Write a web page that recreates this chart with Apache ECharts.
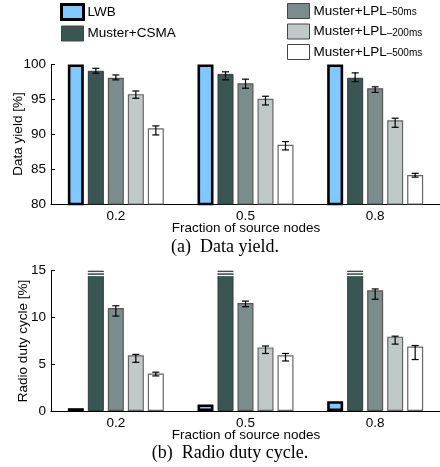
<!DOCTYPE html>
<html>
<head>
<meta charset="utf-8">
<script src="https://cdn.jsdelivr.net/npm/echarts@6/dist/echarts.min.js"></script>
<style>
  html, body { margin: 0; padding: 0; background: #fff; }
  #chart { width: 440px; height: 467px; }
</style>
</head>
<body>
<div id="chart"></div>
<script>
// ---------------- DATA ----------------
const categories = ['0.2', '0.5', '0.8'];
const seriesNames = ['LWB', 'Muster+CSMA', 'Muster+LPL–50ms', 'Muster+LPL–200ms', 'Muster+LPL–500ms'];

// (a) Data yield [%]
const yieldLWB = [100, 100, 100];
const yieldCSMA = [99.1, 98.65, 98.1];
const yieldLPL50 = [98.1, 97.3, 96.6];
const yieldLPL200 = [95.75, 95.1, 92.0];
const yieldLPL500 = [90.85, 88.5, 84.15];
// error bars [low, high]
const yieldErrCSMA = [[98.75, 99.45], [97.8, 98.95], [97.55, 98.8]];
const yieldErrLPL50 = [[97.8, 98.5], [96.6, 97.9], [96.0, 96.8]];
const yieldErrLPL200 = [[95.15, 96.2], [94.2, 95.45], [91.0, 92.3]];
const yieldErrLPL500 = [[89.9, 91.2], [87.75, 88.95], [83.85, 84.4]];

// (b) Radio duty cycle [%]
const dutyLWB = [0.3, 0.7, 1.05];
const dutyCSMA = [15, 15, 15];           // off scale (clipped at axis max, drawn with break marks)
const dutyLPL50 = [11.0, 11.55, 12.9];
const dutyLPL200 = [5.95, 6.8, 7.95];
const dutyLPL500 = [4.0, 5.95, 6.9];
const dutyErrLPL50 = [[10.15, 11.25], [11.15, 11.75], [11.95, 13.05]];
const dutyErrLPL200 = [[5.2, 6.05], [6.15, 6.95], [7.15, 8.0]];
const dutyErrLPL500 = [[3.75, 4.15], [5.35, 6.15], [5.5, 7.0]];

const yieldTicks = { min: 80, max: 100, interval: 5 };
const dutyTicks = { min: 0, max: 15, interval: 5 };

// ---------------- STYLE ----------------
const FONT = 'Liberation Sans, Arial, Helvetica, sans-serif';
const SERIF = 'Liberation Serif, Times New Roman, serif';
const fills = ['#80c8ff', '#3a5652', '#7a8c8c', '#c0c8c8', '#ffffff'];
const borders = ['#000000', '#2e3a38', '#555555', '#666666', '#666666'];
const borderWidths = [2.6, 1, 1.2, 1.2, 1.2];
const BAR_W = 16, BAR_STEP = 20;

function barSeries(i, data, gi) {
  return {
    type: 'bar', name: seriesNames[i], data: data,
    xAxisIndex: gi, yAxisIndex: gi,
    barWidth: BAR_W, barGap: '25%',
    itemStyle: { color: fills[i], borderColor: borders[i], borderWidth: borderWidths[i] },
    emphasis: { disabled: true }, animation: false, z: 2
  };
}

function errSeries(i, errs, gi) {
  return {
    type: 'custom', xAxisIndex: gi, yAxisIndex: gi, z: 5, animation: false, silent: true,
    data: errs.map((e, k) => [k, e[0], e[1]]),
    renderItem: function (params, api) {
      const off = (i - 2) * BAR_STEP;
      const lo = api.coord([api.value(0), api.value(1)]);
      const hi = api.coord([api.value(0), api.value(2)]);
      const x = lo[0] + off, cw = 3.5;
      const st = { stroke: '#000', lineWidth: 1.2 };
      return {
        type: 'group', children: [
          { type: 'line', shape: { x1: x, y1: lo[1], x2: x, y2: hi[1] }, style: st },
          { type: 'line', shape: { x1: x - cw, y1: lo[1], x2: x + cw, y2: lo[1] }, style: st },
          { type: 'line', shape: { x1: x - cw, y1: hi[1], x2: x + cw, y2: hi[1] }, style: st }
        ]
      };
    }
  };
}

function breakSeries(i, vals, gi) {
  return {
    type: 'custom', xAxisIndex: gi, yAxisIndex: gi, z: 6, animation: false, silent: true,
    data: vals.map((v, k) => [k, v]),
    renderItem: function (params, api) {
      const off = (i - 2) * BAR_STEP;
      const p = api.coord([api.value(0), api.value(1)]);
      const x = p[0] + off, hw = BAR_W / 2 + 1;
      const st = { stroke: '#ffffff', lineWidth: 1.2 };
      return {
        type: 'group', children: [
          { type: 'line', shape: { x1: x - hw, y1: p[1] + 2, x2: x + hw, y2: p[1] + 2 }, style: st },
          { type: 'line', shape: { x1: x - hw, y1: p[1] + 4.8, x2: x + hw, y2: p[1] + 4.8 }, style: st }
        ]
      };
    }
  };
}

const axisLabelStyle = { color: '#000', fontSize: 13.5, fontFamily: FONT };

function xAxis(gi) {
  return {
    type: 'category', gridIndex: gi, data: categories,
    axisLine: { lineStyle: { color: '#000', width: 1 } },
    axisTick: { show: false },
    axisLabel: Object.assign({ margin: 5 }, axisLabelStyle),
    splitLine: { show: false }
  };
}
function yAxis(gi, t) {
  return {
    type: 'value', gridIndex: gi, min: t.min, max: t.max, interval: t.interval,
    axisLine: { show: true, lineStyle: { color: '#000', width: 1 } },
    axisTick: { show: true, inside: true, length: 4, lineStyle: { color: '#000' } },
    axisLabel: Object.assign({ margin: 5 }, axisLabelStyle),
    splitLine: { show: false }
  };
}

function legendData(idx) {
  return idx.map(i => ({
    name: seriesNames[i],
    itemStyle: { color: fills[i], borderColor: i === 0 ? '#000' : '#444', borderWidth: i === 0 ? 3 : 1 }
  }));
}
const legendCommon = {
  orient: 'vertical', icon: 'rect', itemWidth: 22, itemHeight: 15, itemGap: 4.5,
  selectedMode: false, padding: 0,
  textStyle: {
    color: '#000', fontSize: 13.5, fontFamily: FONT, padding: [0, 0, 0, -1], lineHeight: 15,
    rich: { s: { fontSize: 10, fontFamily: FONT, color: '#000', padding: [3, 0, 0, 0] } }
  },
  formatter: function (name) {
    const k = name.indexOf('LPL');
    if (k < 0) return name;
    return name.slice(0, k + 3) + '{s|' + name.slice(k + 3) + '}';
  }
};

const option = {
  backgroundColor: '#fff',
  animation: false,
  textStyle: { fontFamily: FONT },
  legend: [
    Object.assign({ left: 60, top: 3, data: legendData([0, 1]) }, legendCommon),
    Object.assign({ left: 287, top: 3, data: legendData([2, 3, 4]) }, legendCommon)
  ],
  grid: [
    { left: 51, top: 64.5, width: 390, height: 139.5 },
    { left: 51, top: 270.7, width: 390, height: 140.3 }
  ],
  xAxis: [xAxis(0), xAxis(1)],
  yAxis: [yAxis(0, yieldTicks), yAxis(1, dutyTicks)],
  graphic: [
    { type: 'text', x: 18.5, y: 134, rotation: Math.PI / 2,
      style: { text: 'Data yield [%]', fill: '#000', font: '13.5px ' + FONT, textAlign: 'center', textVerticalAlign: 'middle' } },
    { type: 'text', x: 23, y: 341, rotation: Math.PI / 2,
      style: { text: 'Radio duty cycle [%]', fill: '#000', font: '13.5px ' + FONT, textAlign: 'center', textVerticalAlign: 'middle' } },
    { type: 'text', x: 246, y: 228,
      style: { text: 'Fraction of source nodes', fill: '#000', font: '13.5px ' + FONT, textAlign: 'center', textVerticalAlign: 'middle' } },
    { type: 'text', x: 246, y: 435,
      style: { text: 'Fraction of source nodes', fill: '#000', font: '13.5px ' + FONT, textAlign: 'center', textVerticalAlign: 'middle' } },
    { type: 'text', x: 225, y: 247,
      style: { text: '(a)  Data yield.', fill: '#000', font: '18px ' + SERIF, textAlign: 'center', textVerticalAlign: 'middle' } },
    { type: 'text', x: 230, y: 453,
      style: { text: '(b)  Radio duty cycle.', fill: '#000', font: '18px ' + SERIF, textAlign: 'center', textVerticalAlign: 'middle' } }
  ],
  series: [
    barSeries(0, yieldLWB, 0),
    barSeries(1, yieldCSMA, 0),
    barSeries(2, yieldLPL50, 0),
    barSeries(3, yieldLPL200, 0),
    barSeries(4, yieldLPL500, 0),
    errSeries(1, yieldErrCSMA, 0),
    errSeries(2, yieldErrLPL50, 0),
    errSeries(3, yieldErrLPL200, 0),
    errSeries(4, yieldErrLPL500, 0),
    barSeries(0, dutyLWB, 1),
    barSeries(1, dutyCSMA, 1),
    barSeries(2, dutyLPL50, 1),
    barSeries(3, dutyLPL200, 1),
    barSeries(4, dutyLPL500, 1),
    errSeries(2, dutyErrLPL50, 1),
    errSeries(3, dutyErrLPL200, 1),
    errSeries(4, dutyErrLPL500, 1),
    breakSeries(1, dutyCSMA, 1)
  ]
};

const chart = echarts.init(document.getElementById('chart'), null, { renderer: 'canvas' });
chart.setOption(option);
</script>
</body>
</html>
